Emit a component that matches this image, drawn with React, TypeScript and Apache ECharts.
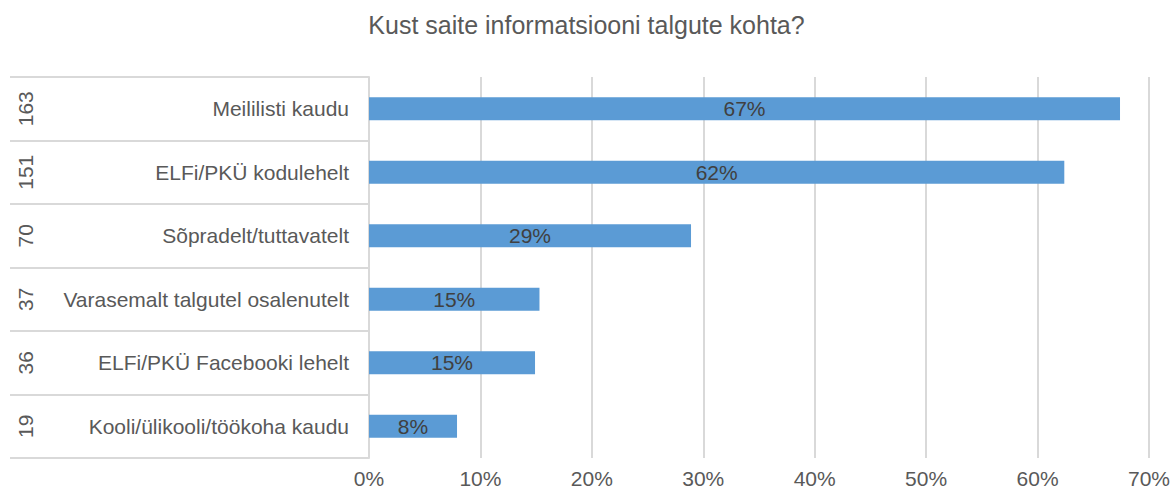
import React, { useEffect, useRef } from "react";
import * as echarts from "echarts";

const categories = [
  "Meililisti kaudu",
  "ELFi/PKÜ kodulehelt",
  "Sõpradelt/tuttavatelt",
  "Varasemalt talgutel osalenutelt",
  "ELFi/PKÜ Facebooki lehelt",
  "Kooli/ülikooli/töökoha kaudu",
];
const counts = ["163", "151", "70", "37", "36", "19"];
const percents = [67.4, 62.4, 28.9, 15.3, 14.9, 7.9];
const title = "Kust saite informatsiooni talgute kohta?";

export default function App() {
  const ref = useRef<HTMLDivElement>(null);
  useEffect(() => {
    if (!ref.current) return;
    const chart = echarts.init(ref.current, null, { renderer: "svg" });
    const font = "'Liberation Sans', Arial, sans-serif";
    chart.setOption({
      animation: false,
      textStyle: { fontFamily: font },
      title: {
        text: title,
        left: "center",
        top: 7,
        textStyle: { color: "#595959", fontSize: 25, fontWeight: "normal", fontFamily: font },
      },
      grid: { left: 369, right: 23, top: 77, bottom: 32, containLabel: false },
      xAxis: {
        type: "value",
        min: 0,
        max: 70,
        interval: 10,
        axisLine: { show: false },
        axisTick: { show: false },
        splitLine: { show: true, lineStyle: { color: "#d9d9d9", width: 2 } },
        axisLabel: {
          formatter: (v: number) => v + "%",
          color: "#595959",
          fontSize: 21,
          margin: 10,
          fontFamily: font,
        },
      },
      yAxis: [
        {
          type: "category",
          data: categories,
          inverse: true,
          axisLine: { show: true, lineStyle: { color: "#d9d9d9", width: 2 } },
          axisTick: { show: true, length: 359, lineStyle: { color: "#d9d9d9", width: 2 } },
          axisLabel: { color: "#595959", fontSize: 21, margin: 20, fontFamily: font },
        },
        {
          type: "category",
          data: counts,
          inverse: true,
          position: "left",
          offset: 331,
          axisLine: { show: false },
          axisTick: { show: false },
          axisLabel: { color: "#595959", fontSize: 21, rotate: 90, margin: 2, fontFamily: font },
        },
      ],
      series: [
        {
          type: "bar",
          data: percents,
          yAxisIndex: 0,
          barWidth: 23,
          itemStyle: { color: "#5b9bd5" },
          label: {
            show: true,
            position: "inside",
            color: "#404040",
            fontSize: 21,
            fontFamily: font,
            formatter: (p: any) => Math.round(p.value) + "%",
          },
        },
      ],
    });
    return () => chart.dispose();
  }, []);
  return (
    <div
      ref={ref}
      style={{ position: "absolute", left: 0, top: 0, width: 1173, height: 490 }}
    />
  );
}
